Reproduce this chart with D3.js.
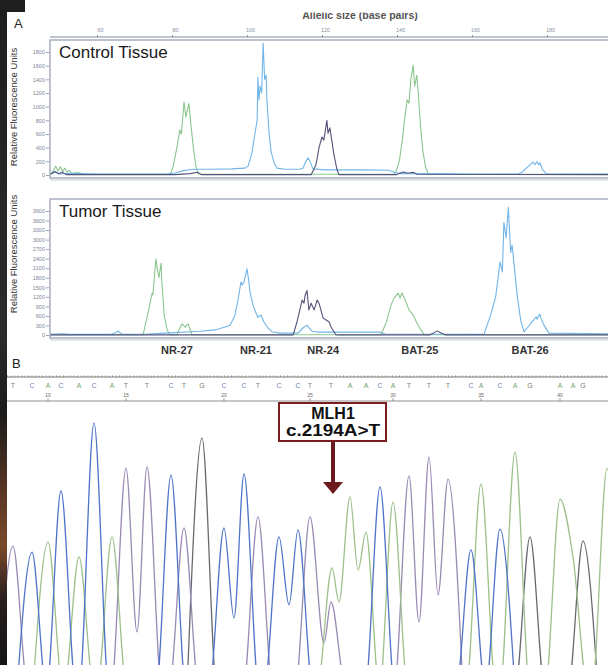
<!DOCTYPE html>
<html>
<head>
<meta charset="utf-8">
<script src="https://cdnjs.cloudflare.com/ajax/libs/d3/7.8.5/d3.min.js"></script>
<style>
  html, body { margin: 0; padding: 0; background: #fff; }
  svg { display: block; font-family: "Liberation Sans", Arial, sans-serif; }
</style>
</head>
<body>
<svg id="fig" width="608" height="665"></svg>
<script>
// ---------- panel A : fragment analysis (allelic size in bp, RFU) ----------
const sizeTicks = [60, 80, 100, 120, 140, 160, 180];
const controlTicks = [0, 200, 400, 600, 800, 1000, 1200, 1400, 1600, 1800];
const tumorTicks = [0, 300, 600, 900, 1200, 1500, 1800, 2100, 2400, 2700, 3000, 3300, 3600, 3900];
const markerNames = ["NR-27", "NR-21", "NR-24", "BAT-25", "BAT-26"];
const markerSizes = [80.5, 101.6, 119.5, 145.3, 174.7];

// control tissue traces [bp, rfu]
const controlGreen = [[46.7,10],[47.5,60],[48.2,130],[48.8,60],[49.4,120],[50,50],[50.6,100],[51.2,40],[51.8,70],[52.5,20],[54,35],[56,15],[60,10],[70,10],
  [78.7,10],[79.5,120],[80.5,400],[81.3,660],[81.7,600],[82.4,1070],[82.9,850],[83.7,1050],[84.3,700],[85,350],[85.6,120],[86.2,20],[87,10],
  [138.4,10],[139,60],[139.8,200],[140.6,500],[141.3,850],[141.9,1100],[142.4,1050],[142.9,1400],[143.5,1610],[143.9,1300],[144.5,1460],[145,1100],[145.5,700],[146.1,350],[146.8,120],[147.4,30],[148,10],[196,10]];
const controlBlue = [[46.7,15],[48,40],[49,15],[52,25],[60,15],[70,15],[78,15],[80,30],[82,60],[84,80],[86,85],[90,85],[95,90],
  [98.7,100],[99.5,130],[100.5,320],[101.3,600],[101.9,800],[102.1,1430],[102.4,1100],[102.7,1300],[103.1,1200],[103.5,1930],[103.9,1400],[104.3,1460],[104.5,1100],[105.1,600],[105.6,350],[106.4,180],[107.2,100],[109.3,85],[113.3,85],
  [114.1,100],[114.9,200],[115.5,250],[116,200],[116.8,90],[120,75],[130,75],[137,70],[138.5,40],[140,20],[150,20],[160,15],
  [171.5,15],[172.5,40],[173.5,90],[174.5,140],[175.5,190],[176,150],[176.5,195],[177,150],[177.3,180],[178,80],[179,20],[180,15],[196,15]];
const controlDark = [[46.7,5],[48,50],[49,20],[50,40],[51,5],[80,5],[84,20],[86,40],[87,5],
  [116.3,5],[117.6,150],[118.4,400],[119.2,556],[119.7,510],[120.5,800],[120.8,610],[121.3,690],[122.4,290],[123.2,80],[123.7,5],
  [139,5],[140,30],[141,45],[142,25],[143.5,40],[144.5,10],[196,5]];

// tumor tissue traces [bp, rfu]
const tumorGreen = [[46.7,10],[60,10],[71.5,10],[72.5,530],[73.9,1320],[74.1,1260],[74.9,2390],[75.2,2140],[75.7,1800],[76.3,2260],[76.5,1670],[77.1,630],[77.9,160],[78.7,10],
  [80.5,10],[81.2,200],[81.9,350],[82.7,250],[83.5,350],[84.1,150],[84.5,10],
  [134.9,10],[136.3,380],[137.6,940],[138.4,1160],[139.5,1320],[140,1160],[140.5,1320],[141.6,1040],[142.4,790],[143.5,630],[144.5,380],[145.6,160],[146.4,10],[196,10]];
const tumorBlue = [[46.7,20],[50,40],[52,20],[63,20],[64.3,80],[64.8,130],[65.4,60],[66,20],[72,25],[77.3,60],[86.7,120],[90.7,160],[93.3,250],
  [94.7,310],[96,630],[96.8,1100],[97.6,1670],[97.9,1570],[98.4,1670],[99.2,2080],[99.7,1670],[100,1350],[100.8,940],[101.6,690],[102.1,560],[102.9,630],[103.7,410],[104.8,220],[105.9,100],[108,60],
  [112.8,60],[114.1,220],[115.2,310],[116.5,120],[118.7,90],[134.7,90],[136,30],
  [162.4,20],[164.2,640],[165.5,1190],[166.7,2300],[167.3,1980],[167.7,3540],[168.3,3050],[168.9,4020],[169.5,2600],[169.9,2830],[170.6,2000],[171.3,1200],[172.2,450],[173.1,100],
  [173.9,220],[175.2,410],[176.3,570],[176.5,500],[177.3,660],[177.6,520],[178.4,310],[179.7,60],[196,40]];
const tumorDark = [[46.7,5],[60,5],[111.5,5],[112.5,400],[113.3,800],[113.9,1100],[114.4,1000],[114.7,1250],[115.2,1400],[115.7,790],[116.3,1000],[117.1,790],[117.9,1100],[118.4,1000],[118.9,790],[119.5,530],[120.3,470],[121.1,410],[121.6,250],[122.9,10],[123.5,5],
  [148,5],[149,60],[149.9,130],[151,60],[152,5],[196,5]];

// ---------- panel B : Sanger chromatogram ----------
const firstBase = 8;
const calls      = ["T","C","A","C","A","C","A","T","T","C","T","G","C","C","T","C","C","T","T","A","A","C","A","T","T","T","C","A","C","A","G","N","A","A","G"];
const callScan   = [26,64,96,122,158,188,224,252,294,342,368,404,448,488,516,558,596,620,662,700,732,760,786,818,858,896,942,962,1000,1030,1060,1092,1120,1146,1166];
const callHeight = [533,511,548,737,493,989,567,822,826,796,600,933,600,800,641,567,593,641,326,715,585,752,696,793,863,781,519,763,596,881,567,0,707,493,552];
// secondary peaks (heterozygous A at the mutation, next base off the right edge)
const extraBase   = ["A","A"];
const extraScan   = [664, 1214];
const extraHeight = [452, 820];
// valleys between neighbouring peaks of one dye
const troughBase   = ["T","T","T","T","C","C","A","A"];
const troughScan   = [274, 648, 838, 876, 468, 578, 678, 716];
const troughHeight = [215, 174, 252, 352, 267, 315, 326, 444];

const svg = d3.select("#fig");
const defs = svg.append("defs");

svg.append("rect").attr("width", 608).attr("height", 665).attr("fill", "#fff");

// dark photo edge on the left
const edge = defs.append("linearGradient").attr("id", "edge")
  .attr("x1", 0).attr("y1", 0).attr("x2", 0).attr("y2", 1);
[[0,"#1e1e1e"],[0.5,"#2c2c2c"],[0.62,"#1b1b1b"],[0.74,"#5a3624"],[0.82,"#7a4a2c"],[0.9,"#2a1e1e"],[1,"#151515"]]
  .forEach(s => edge.append("stop").attr("offset", s[0]).attr("stop-color", s[1]));
svg.append("rect").attr("x", 0).attr("y", 0).attr("width", 7).attr("height", 665).attr("fill", "url(#edge)");
svg.append("rect").attr("x", 0).attr("y", 0).attr("width", 25).attr("height", 12).attr("fill", "#1e1e1e");

svg.append("text").attr("x", 14).attr("y", 28).attr("font-size", 13).attr("fill", "#222").text("A");

// top size axis
const xbp = d3.scaleLinear().domain([60, 180]).range([100, 550]);

defs.append("clipPath").attr("id", "cutTitle")
  .append("rect").attr("x", 0).attr("y", 12.5).attr("width", 608).attr("height", 20);
svg.append("text").attr("x", 360).attr("y", 18.5).attr("text-anchor", "middle")
  .attr("font-size", 10.5).attr("font-weight", "bold").attr("fill", "#555")
  .attr("clip-path", "url(#cutTitle)").text("Allelic size (base pairs)");

svg.append("line").attr("x1", 50).attr("x2", 608).attr("y1", 37).attr("y2", 37)
  .attr("stroke", "#a9b2c2").attr("stroke-width", 1.4);
const topAxis = svg.append("g").attr("transform", "translate(0,37)")
  .call(d3.axisTop(xbp).tickValues(sizeTicks).tickSize(2).tickPadding(3));
topAxis.select(".domain").remove();
topAxis.selectAll(".tick line").attr("stroke", "#8a93a3").attr("transform", "translate(-3,0)");
topAxis.selectAll(".tick text").attr("font-size", 5.5).attr("fill", "#8a93a3").attr("font-family", null);

const dyeColor = { green: "#8cc68f", blue: "#72b5e8", dark: "#54537a" };

function fragmentPanel(opt) {
  const y = d3.scaleLinear().domain(opt.domain).range(opt.range);
  const id = "clip" + opt.key;
  defs.append("clipPath").attr("id", id)
    .append("rect").attr("x", 50).attr("y", opt.top).attr("width", 570).attr("height", opt.bottom - opt.top);

  const line = d3.line().x(d => xbp(d[0])).y(d => y(d[1]));
  const g = svg.append("g").attr("clip-path", `url(#${id})`);
  opt.traces.forEach(t => {
    g.append("path").attr("d", line(t.data)).attr("fill", "none")
      .attr("stroke", dyeColor[t.dye]).attr("stroke-width", 1.1).attr("stroke-linejoin", "round");
  });

  svg.append("rect").attr("x", 50).attr("y", opt.top).attr("width", 570).attr("height", opt.bottom - opt.top)
    .attr("fill", "none").attr("stroke", "#9aa3b4").attr("stroke-width", 1.3);
  svg.append("line").attr("x1", 50).attr("x2", 608).attr("y1", opt.bottom + 2).attr("y2", opt.bottom + 2)
    .attr("stroke", "#c9ced8").attr("stroke-width", 1);

  const ax = svg.append("g").attr("transform", "translate(49,0)")
    .call(d3.axisLeft(y).tickValues(opt.ticks).tickSize(3).tickPadding(1).tickFormat(d3.format("d")));
  ax.select(".domain").remove();
  ax.selectAll(".tick line").attr("stroke", "#9aa3b4");
  ax.selectAll(".tick text").attr("font-size", 5.5).attr("fill", "#7d8697").attr("font-family", null);

  svg.append("text").attr("transform", `translate(17,${opt.labelY}) rotate(-90)`)
    .attr("text-anchor", "middle").attr("font-size", 9.5).attr("fill", "#333")
    .text("Relative Fluorescence Units");

  svg.append("text").attr("x", 59).attr("y", opt.top + 18).attr("font-size", 17).attr("fill", "#1a1a1a")
    .text(opt.title);
}

fragmentPanel({
  key: "c", title: "Control Tissue", top: 40, bottom: 178, labelY: 107,
  domain: [0, 1800], range: [175, 52], ticks: controlTicks,
  traces: [{ dye: "green", data: controlGreen }, { dye: "blue", data: controlBlue }, { dye: "dark", data: controlDark }]
});
fragmentPanel({
  key: "t", title: "Tumor Tissue", top: 199, bottom: 338, labelY: 254,
  domain: [0, 3900], range: [335, 211], ticks: tumorTicks,
  traces: [{ dye: "green", data: tumorGreen }, { dye: "blue", data: tumorBlue }, { dye: "dark", data: tumorDark }]
});

svg.append("g").selectAll("text").data(markerNames).join("text")
  .attr("x", (d, i) => xbp(markerSizes[i])).attr("y", 354)
  .attr("text-anchor", "middle").attr("font-size", 11).attr("font-weight", "bold").attr("fill", "#333")
  .text(d => d);

// ---------- panel B ----------
svg.append("text").attr("x", 12).attr("y", 368).attr("font-size", 13).attr("fill", "#222").text("B");

const xs = d3.scaleLinear().domain([0, 1216]).range([0, 608]);
const ys = d3.scaleLinear().domain([0, 1000]).range([690, 420]);
const baseColor = { A: "#9dc08c", C: "#4f74c8", G: "#666a70", T: "#9b8ab4" };
const letterColor = { A: "#72a86c", C: "#6f86b8", G: "#7a7a7a", T: "#858585" };

// ruler with fine ticks
svg.append("line").attr("x1", 7).attr("x2", 608).attr("y1", 377).attr("y2", 377)
  .attr("stroke", "#6a6a6a").attr("stroke-width", 0.9);
const ruler = svg.append("g").attr("transform", "translate(0,377)")
  .call(d3.axisTop(xs).tickValues(d3.range(14, 1216, 7)).tickSize(1.6).tickFormat(""));
ruler.select(".domain").remove();
ruler.selectAll(".tick line").attr("stroke", "#777").attr("stroke-width", 0.7);

svg.append("g").selectAll("text").data(calls).join("text")
  .attr("x", (d, i) => xs(callScan[i])).attr("y", 387.5)
  .attr("text-anchor", "middle").attr("font-size", 7).attr("fill", d => letterColor[d] || "#fff")
  .text(d => d === "N" ? "" : d);

svg.append("line").attr("x1", 7).attr("x2", 608).attr("y1", 401).attr("y2", 401)
  .attr("stroke", "#8e8e8e").attr("stroke-width", 1);
const numbered = calls.map((d, i) => i).filter(i => (i + firstBase) % 5 === 0);
const numG = svg.append("g").selectAll("g").data(numbered).join("g")
  .attr("transform", i => `translate(${xs(callScan[i])},0)`);
numG.append("text").attr("y", 397).attr("text-anchor", "middle").attr("font-size", 5).attr("fill", "#666")
  .text(i => i + firstBase);
numG.append("line").attr("y1", 398.3).attr("y2", 401).attr("stroke", "#777").attr("stroke-width", 0.8);

// traces
defs.append("clipPath").attr("id", "clipSeq")
  .append("rect").attr("x", 7).attr("y", 403).attr("width", 601).attr("height", 262);

const HW = 30; // scan points from a peak top to the baseline
function channelPoints(b) {
  const pk = [];
  calls.forEach((c, i) => { if (c === b) pk.push([callScan[i], callHeight[i]]); });
  extraBase.forEach((c, i) => { if (c === b) pk.push([extraScan[i], extraHeight[i]]); });
  pk.sort((p, q) => p[0] - q[0]);
  const tr = [];
  troughBase.forEach((c, i) => { if (c === b) tr.push([troughScan[i], troughHeight[i]]); });
  const pts = [[pk[0][0] - HW, 0]];
  pk.forEach((p, i) => {
    pts.push(p);
    const n = pk[i + 1];
    if (!n) { pts.push([p[0] + HW, 0]); return; }
    const t = tr.find(v => v[0] > p[0] && v[0] < n[0]);
    if (t) pts.push(t);
    else if (n[0] - p[0] > 2 * HW) { pts.push([p[0] + HW, 0]); pts.push([n[0] - HW, 0]); }
    else if (n[0] - p[0] > HW * 1.5) pts.push([(p[0] + n[0]) / 2, 0]);
  });
  return pts;
}

const seqLine = d3.line().x(d => xs(d[0])).y(d => ys(d[1])).curve(d3.curveMonotoneX);
const seqG = svg.append("g").attr("clip-path", "url(#clipSeq)");
["G", "T", "A", "C"].forEach(b => {
  seqG.append("path").attr("d", seqLine(channelPoints(b))).attr("fill", "none")
    .attr("stroke", baseColor[b]).attr("stroke-width", 1.3);
});

// mutation callout
const mutX = xs(callScan[18]) + 2;
svg.append("rect").attr("x", mutX - 54).attr("y", 403).attr("width", 107).attr("height", 38)
  .attr("fill", "#fff").attr("stroke", "#7a1e22").attr("stroke-width", 2);
svg.append("text").attr("x", mutX).attr("y", 419).attr("text-anchor", "middle")
  .attr("font-size", 16).attr("font-weight", "bold").attr("fill", "#111").text("MLH1");
svg.append("text").attr("x", mutX).attr("y", 436).attr("text-anchor", "middle")
  .attr("font-size", 16).attr("font-weight", "bold").attr("fill", "#111")
  .attr("textLength", 94).attr("lengthAdjust", "spacingAndGlyphs").text("c.2194A>T");
svg.append("line").attr("x1", mutX).attr("x2", mutX).attr("y1", 442).attr("y2", 484)
  .attr("stroke", "#6b1a1e").attr("stroke-width", 4);
svg.append("path").attr("d", `M${mutX - 10},482L${mutX + 10},482L${mutX},494Z`).attr("fill", "#6b1a1e");
</script>
</body>
</html>
